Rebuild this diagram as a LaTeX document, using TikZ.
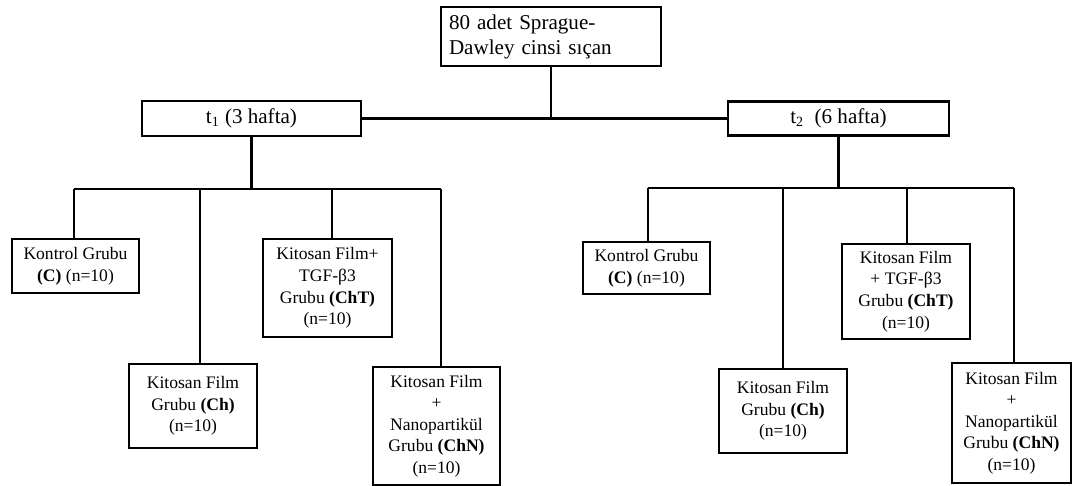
\documentclass[tikz,border=0pt]{standalone}
\usepackage{fontspec}
\setmainfont{Liberation Serif}
\usepackage{tikz}
\usetikzlibrary{calc,positioning}

\begin{document}
\begin{tikzpicture}[x=0.02cm, y=-0.02cm,
    box/.style={draw, line width=1.3pt, inner sep=1pt, align=center},
    grp/.style={box, font=\fontsize{10}{12.3}\selectfont},
    wire/.style={line width=1.3pt}]
    \useasboundingbox (0,0) rectangle (1072,486);

    \node[box, align=left, text width=4.08cm, inner xsep=0.16cm, minimum height=1.18cm,
      font=\fontsize{12}{14.2}\selectfont] (rats) at (551,36.5)
      {80 adet Sprague-\\Dawley cinsi sıçan};

    \node[box, minimum width=4.38cm, minimum height=0.7cm, font=\fontsize{12}{14}\selectfont]
      (tone) at (251.5,118.5) {t\textsubscript{1} (3 hafta)};
    \node[box, minimum width=4.42cm, minimum height=0.68cm, font=\fontsize{12}{14}\selectfont]
      (ttwo) at (838.5,118.5) {t\textsubscript{2}\ \ (6 hafta)};

    % t1 groups
    \node[grp, minimum width=2.54cm, minimum height=1.08cm] (kon1) at (75.5,266)
      {Kontrol Grubu\\\textbf{(C)} (n=10)};
    \node[grp, minimum width=2.56cm, minimum height=1.68cm] (kf1) at (193,406)
      {Kitosan Film\\Grubu \textbf{(Ch)}\\(n=10)};
    \node[grp, minimum width=2.58cm, minimum height=1.96cm] (kft1) at (327.5,288)
      {Kitosan Film+\\TGF-β3\\Grubu \textbf{(ChT)}\\(n=10)};
    \node[grp, minimum width=2.54cm, minimum height=2.36cm] (kfn1) at (436.5,426)
      {Kitosan Film\\+\\Nanopartikül\\Grubu \textbf{(ChN)}\\(n=10)};

    % t2 groups
    \node[grp, minimum width=2.54cm, minimum height=1.04cm] (kon2) at (646.5,268)
      {Kontrol Grubu\\\textbf{(C)} (n=10)};
    \node[grp, minimum width=2.56cm, minimum height=1.68cm] (kf2) at (783,411)
      {Kitosan Film\\Grubu \textbf{(Ch)}\\(n=10)};
    \node[grp, minimum width=2.56cm, minimum height=1.9cm] (kft2) at (906,291.5)
      {Kitosan Film\\+ TGF-β3\\Grubu \textbf{(ChT)}\\(n=10)};
    \node[grp, minimum width=2.38cm, minimum height=2.4cm] (kfn2) at (1011.5,423)
      {Kitosan Film\\+\\Nanopartikül\\Grubu \textbf{(ChN)}\\(n=10)};

    \draw[wire] (tone.east) -- (ttwo.west);
    \draw[wire] (rats.south) -- (rats.south |- tone.east);

    \coordinate (barone) at (251.5,189);
    \coordinate (bartwo) at (838.5,188);
    \draw[wire] (tone.south) -- (barone);
    \draw[wire] (ttwo.south) -- (bartwo);
    \draw[wire] (74,189) -- (441,189);
    \draw[wire] (648,188) -- (1014,188);
    \foreach \x/\n in {74/kon1, 200/kf1, 332/kft1, 441/kfn1}
      \draw[wire] (\x,189) -- (\x,189 |- \n.north);
    \foreach \x/\n in {648/kon2, 783/kf2, 907/kft2, 1014/kfn2}
      \draw[wire] (\x,188) -- (\x,188 |- \n.north);
  \end{tikzpicture}
\end{document}
